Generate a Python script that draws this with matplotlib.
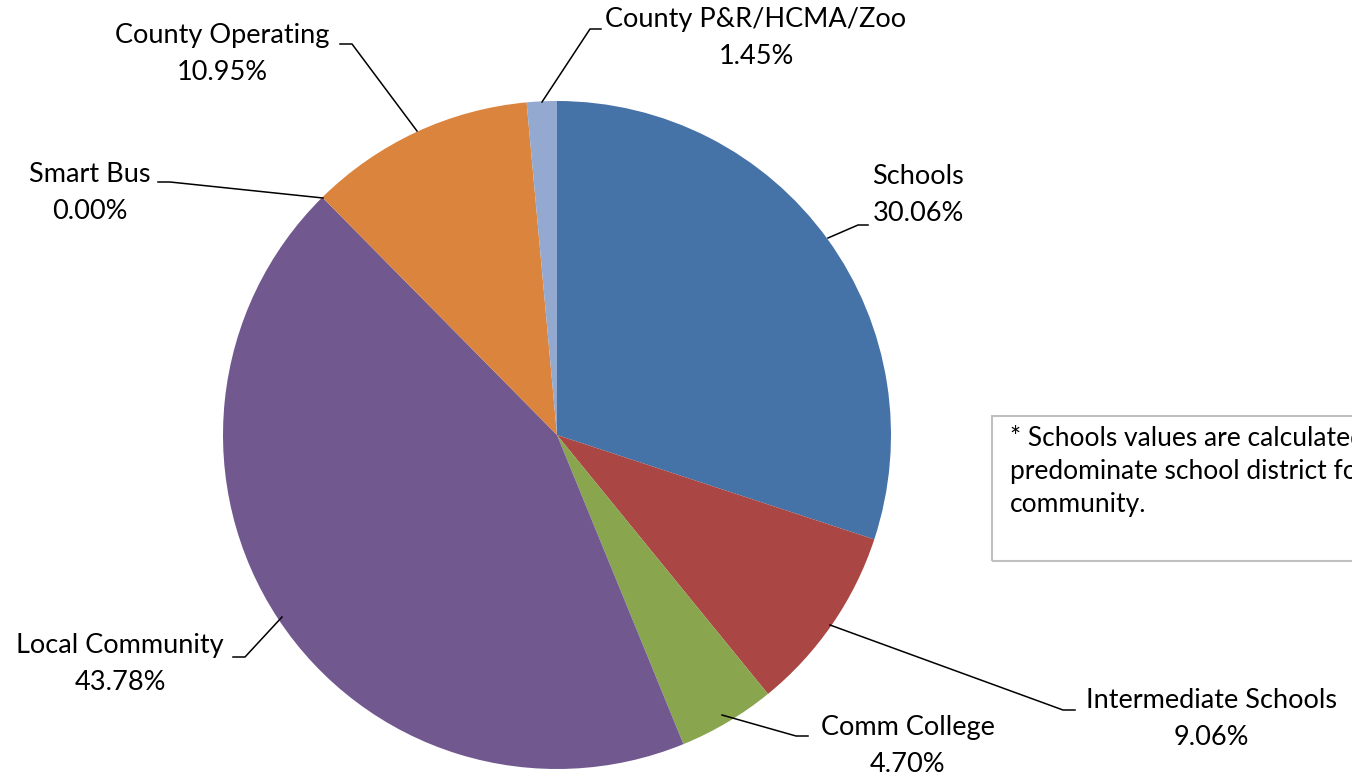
import matplotlib
matplotlib.use('Agg')
import matplotlib.pyplot as plt
from matplotlib.patches import Rectangle

plt.rcParams['font.family'] = ['Lato', 'DejaVu Sans']

labels = ['Schools', 'Intermediate Schools', 'Comm College', 'Local Community',
          'Smart Bus', 'County Operating', 'County P&R/HCMA/Zoo']
values = [30.06, 9.06, 4.70, 43.78, 0.00, 10.95, 1.45]
colors = ['#4572A7', '#AA4643', '#89A54E', '#71588F', '#4198AF', '#DB843D', '#93A9CF']
note = ('* Schools values are calculated using the\n'
        'predominate school district for the\ncommunity.')

W, H = 1352, 781


def Y(y):
    # pixel row (top down) -> data y
    return H - y


fig = plt.figure(figsize=(W / 100, H / 100), dpi=100)
ax = fig.add_axes([0, 0, 1, 1])

ax.pie(values, colors=colors, startangle=90, counterclock=False,
       center=(557, Y(435)), radius=334, wedgeprops=dict(linewidth=0))
ax.set_xlim(0, W)
ax.set_ylim(0, H)
ax.set_aspect('equal')
ax.axis('off')

# label text centre, connector path (pixel coords)
label_pos = {
    'Schools': (918, 195, [(828, 238), (858, 225), (868, 225)]),
    'Intermediate Schools': (1211, 719, [(830, 625), (1063, 710), (1075, 710)]),
    'Comm College': (908, 746, [(722, 715), (796, 736), (808, 736)]),
    'Local Community': (120, 664, [(282, 617), (245, 657), (233, 657)]),
    'Smart Bus': (90, 193, [(323, 198), (170, 182), (158, 182)]),
    'County Operating': (222, 54, [(417, 131), (352, 44), (340, 44)]),
    'County P&R/HCMA/Zoo': (756, 38, [(542, 102), (590, 29), (601, 29)]),
}

for name, val in zip(labels, values):
    tx, ty, path = label_pos[name]
    ax.text(tx, Y(ty), '{}\n{:.2f}%'.format(name, val), ha='center', va='center',
            fontsize=19.5, linespacing=1.58, color='#000000')
    ax.plot([p[0] for p in path], [Y(p[1]) for p in path], color='black', lw=1.1)

# note box, cut by the right edge as in the original
ax.add_patch(Rectangle((992, Y(561)), 420, 145, fill=False, edgecolor='#BFBFBF',
                       lw=1.5, clip_on=False))
ax.text(1010, Y(425), note, ha='left', va='top', fontsize=19,
        linespacing=1.41, color='black')

fig.savefig('out.png', dpi=100)
